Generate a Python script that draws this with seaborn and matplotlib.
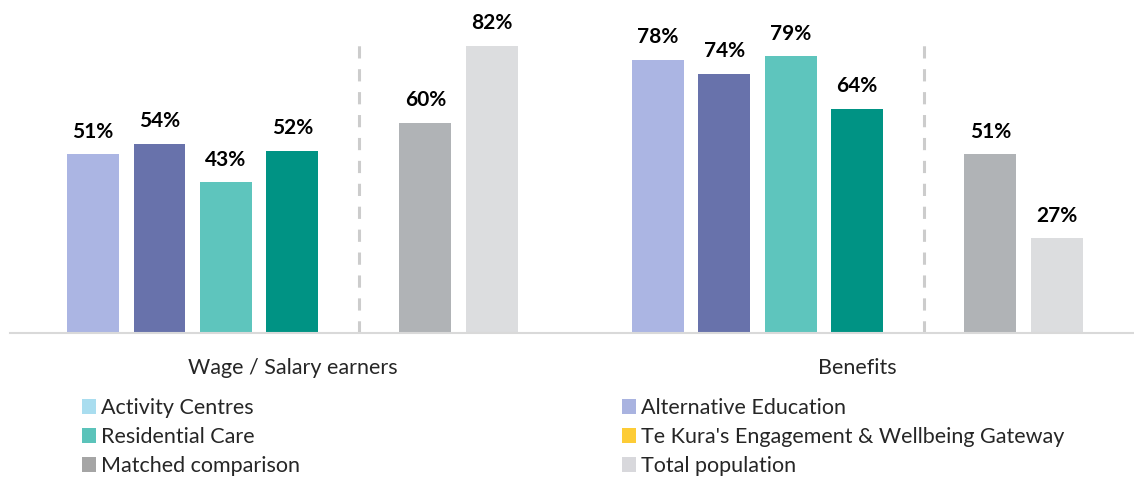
import pandas as pd
import seaborn as sns
from matplotlib import pyplot as plt
from matplotlib.patches import Patch

# chart values
categories = ["Wage / Salary earners", "Benefits"]
bar_series = ["Series 1", "Series 2", "Series 3", "Series 4",
              "Matched comparison", "Total population"]
wage_values = [51, 54, 43, 52, 60, 82]
benefit_values = [78, 74, 79, 64, 51, 27]

bar_colours = ["#ABB5E3", "#6872AB", "#5EC5BD", "#009384", "#B0B3B6", "#DCDDDF"]

legend_labels = ["Activity Centres", "Residential Care", "Matched comparison",
                 "Alternative Education", "Te Kura's Engagement & Wellbeing Gateway",
                 "Total population"]
legend_colours = ["#A9DDEF", "#5BC3BA", "#A5A5A5",
                  "#A9B3E0", "#FDCC36", "#D8D8DC"]

rows = []
for cat, vals in zip(categories, [wage_values, benefit_values]):
    for s, v in zip(bar_series, vals):
        rows.append({"category": cat, "series": s, "value": v})
df = pd.DataFrame(rows)

# an empty hue level leaves the gap where the dashed divider sits
gap_name = "gap"
hue_order = bar_series[:4] + [gap_name] + bar_series[4:]
palette = dict(zip(bar_series, bar_colours))
palette[gap_name] = "white"

sns.set_style("white")
plt.rcParams["font.family"] = ["Lato", "DejaVu Sans"]

fig = plt.figure(figsize=(11.34, 4.78), dpi=100)
ax = fig.add_axes([10 / 1134, 145 / 478, 1124 / 1134, 333 / 478])

group_width = 0.824
sns.barplot(data=df, x="category", y="value", hue="series",
            hue_order=hue_order, order=categories, palette=palette,
            width=group_width, gap=0.22, saturation=1, legend=False,
            linewidth=0, ax=ax)

for cont in ax.containers:
    ax.bar_label(cont, fmt="%d%%", padding=9, fontsize=15,
                 fontweight="bold", color="black")

# dashed dividers between programme bars and comparison bars
slot = group_width / len(hue_order)
for i in range(len(categories)):
    xd = i + (hue_order.index(gap_name) - (len(hue_order) - 1) / 2) * slot
    ax.vlines(xd, 0, 84.3, colors="#CCCCCC", linestyles=(0, (4, 3.5)),
              linewidth=2.2)

ax.set_xlim(-0.5, 1.49)
ax.set_ylim(0, 95)
ax.set_yticks([])
ax.set_xlabel("")
ax.set_ylabel("")
ax.tick_params(axis="x", length=0, pad=18, labelsize=15.5)
for side in ["left", "right", "top"]:
    ax.spines[side].set_visible(False)
ax.spines["bottom"].set_color("#D9D9D9")
ax.spines["bottom"].set_linewidth(1.5)

handles = [Patch(facecolor=c, edgecolor="none") for c in legend_colours]
for col, x0 in enumerate([82 / 1134, 622 / 1134]):
    leg = fig.legend(handles[col * 3:col * 3 + 3],
                     legend_labels[col * 3:col * 3 + 3],
                     loc="center left", bbox_to_anchor=(x0, 1 - 437 / 478),
                     frameon=False, fontsize=15.5, borderpad=0,
                     borderaxespad=0, handlelength=0.65, handleheight=0.65,
                     handletextpad=0.25, labelspacing=0.42)

fig.savefig("out.png", dpi=100)
